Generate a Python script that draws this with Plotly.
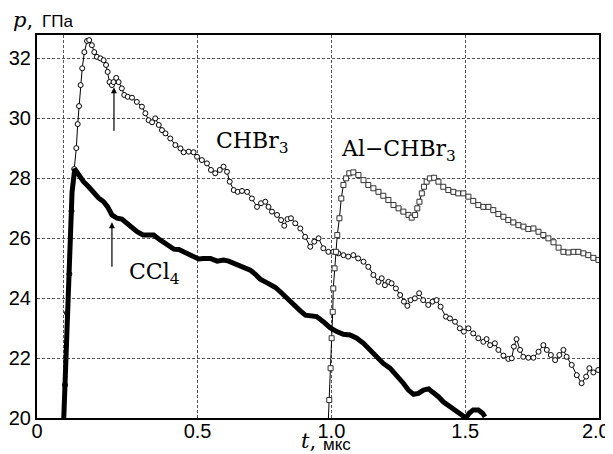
import plotly.graph_objects as go

# ---- data ----
chbr3_t = [-0.002, 0.0045, 0.012, 0.021, 0.029, 0.039, 0.047, 0.052, 0.057, 0.063, 0.069, 0.077, 0.087, 0.095,
           0.105, 0.114, 0.124, 0.137, 0.149, 0.158, 0.164, 0.171, 0.18, 0.186, 0.196, 0.205, 0.217, 0.226,
           0.239, 0.255, 0.273, 0.292, 0.305, 0.317, 0.33, 0.342, 0.355, 0.367, 0.38, 0.398, 0.417, 0.436,
           0.448, 0.467, 0.485, 0.498, 0.516, 0.535, 0.55, 0.566, 0.583, 0.597, 0.61, 0.62, 0.635, 0.65,
           0.666, 0.685, 0.703, 0.722, 0.737, 0.753, 0.765, 0.778, 0.797, 0.812, 0.824, 0.836, 0.849, 0.865,
           0.884, 0.902, 0.921, 0.936, 0.952, 0.97, 0.989, 1.007, 1.026, 1.045, 1.063, 1.082, 1.1, 1.12,
           1.138, 1.157, 1.176, 1.188, 1.2, 1.213, 1.225, 1.241, 1.257, 1.271, 1.284, 1.296, 1.312, 1.328,
           1.343, 1.362, 1.378, 1.393, 1.408, 1.428, 1.443, 1.462, 1.48, 1.495, 1.512, 1.53, 1.549, 1.568,
           1.58, 1.593, 1.611, 1.624, 1.643, 1.661, 1.674, 1.682, 1.692, 1.705, 1.717, 1.736, 1.755, 1.774,
           1.792, 1.805, 1.82, 1.836, 1.852, 1.867, 1.879, 1.898, 1.917, 1.935, 1.952, 1.964, 1.979, 1.997]
chbr3_p = [19.5, 21.1, 23.5, 24.8, 26.9, 28.3, 29.0, 29.8, 30.4, 31.1, 31.66, 32.2, 32.57, 32.6,
           32.43, 32.2, 32.04, 31.99, 31.93, 31.77, 31.54, 31.2, 31.1, 31.2, 31.34, 31.2, 30.99, 30.77,
           30.71, 30.68, 30.54, 30.38, 30.16, 29.93, 29.86, 29.99, 29.77, 29.6, 29.49, 29.32, 29.1, 28.99,
           28.86, 28.88, 28.86, 28.71, 28.6, 28.49, 28.27, 28.16, 28.27, 28.38, 28.21, 27.88, 27.6, 27.54,
           27.57, 27.54, 27.32, 27.04, 27.16, 27.21, 27.04, 26.88, 26.77, 26.6, 26.41, 26.63, 26.66, 26.49,
           26.32, 26.04, 25.71, 25.88, 25.99, 25.66, 25.54, 25.54, 25.49, 25.43, 25.38, 25.43, 25.32, 25.21,
           25.04, 24.77, 24.54, 24.66, 24.43, 24.54, 24.49, 24.32, 24.1, 23.88, 23.74, 23.93, 23.99, 24.16,
           23.93, 23.77, 23.88, 23.93, 23.71, 23.38, 23.32, 23.21, 22.99, 22.88, 22.99, 22.82, 22.66, 22.54,
           22.63, 22.43, 22.49, 22.27, 22.08, 21.97, 21.99, 22.38, 22.63, 22.27, 22.04, 22.01, 22.01, 22.21,
           22.43, 22.27, 22.1, 21.93, 22.1, 22.27, 22.04, 21.77, 21.43, 21.16, 21.38, 21.66, 21.52, 21.6]

ccl4_t = [-0.002, 0.0095, 0.018, 0.024, 0.031, 0.041, 0.056, 0.074, 0.093, 0.112, 0.13, 0.149, 0.164, 0.18,
          0.199, 0.217, 0.236, 0.255, 0.274, 0.296, 0.317, 0.336, 0.355, 0.373, 0.392, 0.411, 0.43, 0.448,
          0.467, 0.485, 0.504, 0.523, 0.548, 0.573, 0.597, 0.616, 0.635, 0.66, 0.678, 0.697, 0.716, 0.734,
          0.753, 0.772, 0.79, 0.809, 0.828, 0.847, 0.865, 0.884, 0.903, 0.921, 0.945, 0.97, 0.995, 1.02,
          1.045, 1.07, 1.095, 1.12, 1.144, 1.17, 1.194, 1.219, 1.244, 1.269, 1.288, 1.307, 1.325, 1.344,
          1.363, 1.381, 1.4, 1.418, 1.437, 1.456, 1.474, 1.49, 1.503, 1.515, 1.53, 1.549, 1.565, 1.574]
ccl4_p = [19.5, 22.3, 24.77, 26.3, 27.54, 28.3, 28.1, 27.88, 27.71, 27.49, 27.34, 27.21, 27.04, 26.77,
          26.66, 26.63, 26.49, 26.34, 26.21, 26.1, 26.1, 26.1, 25.97, 25.86, 25.71, 25.63, 25.62, 25.54,
          25.49, 25.38, 25.3, 25.32, 25.32, 25.23, 25.27, 25.23, 25.16, 25.04, 24.99, 24.93, 24.79, 24.63,
          24.54, 24.46, 24.36, 24.21, 24.04, 23.88, 23.71, 23.57, 23.43, 23.41, 23.38, 23.21, 23.01, 22.88,
          22.79, 22.77, 22.66, 22.49, 22.27, 22.04, 21.82, 21.66, 21.43, 21.16, 20.93, 20.79, 20.82, 20.93,
          20.97, 20.86, 20.71, 20.54, 20.41, 20.3, 20.16, 20.04, 20.0, 20.16, 20.27, 20.27, 20.16, 20.04]

al_t = [0.988, 0.992, 0.997, 1.001, 1.005, 1.007, 1.012, 1.017, 1.022, 1.03, 1.037, 1.045, 1.055, 1.067,
        1.082, 1.101, 1.12, 1.138, 1.157, 1.176, 1.194, 1.213, 1.232, 1.251, 1.269, 1.288, 1.3, 1.313,
        1.321, 1.329, 1.338, 1.346, 1.356, 1.368, 1.384, 1.4, 1.418, 1.437, 1.456, 1.474, 1.493, 1.512,
        1.53, 1.549, 1.568, 1.587, 1.605, 1.624, 1.643, 1.661, 1.68, 1.699, 1.718, 1.736, 1.755, 1.774,
        1.792, 1.811, 1.83, 1.849, 1.867, 1.886, 1.905, 1.923, 1.942, 1.96, 1.979, 1.998]
al_p = [19.8, 20.6, 21.66, 22.66, 23.54, 24.32, 24.99, 25.54, 26.1, 26.66, 27.32, 27.77, 27.99, 28.16,
        28.19, 28.1, 27.93, 27.77, 27.66, 27.54, 27.41, 27.27, 27.1, 26.99, 26.88, 26.77, 26.68, 26.77,
        26.99, 27.21, 27.49, 27.71, 27.88, 27.99, 28.01, 27.88, 27.71, 27.6, 27.54, 27.49, 27.49, 27.38,
        27.24, 27.1, 27.04, 27.04, 26.93, 26.8, 26.71, 26.6, 26.52, 26.43, 26.38, 26.3, 26.32, 26.21,
        26.1, 25.99, 25.86, 25.68, 25.54, 25.52, 25.54, 25.54, 25.49, 25.43, 25.34, 25.27]

# tick label positions as printed in the reference (first/last sit at the frame edges)
x_tickvals = [-0.1, 0.5, 1.0, 1.5, 1.988]
x_ticktext = ["0", "0.5", "1.0", "1.5", "2.0"]
x_gridvals = [0, 0.5, 1.0, 1.5]
y_tickvals = [20, 22, 24, 26, 28, 30, 32]
y_ticktext = ["20", "22", "24", "26", "28", "30", "32"]

labels = ["CHBr<sub>3</sub>", "CCl<sub>4</sub>", "Al\u2212CHBr<sub>3</sub>"]

fig = go.Figure()

fig.add_trace(go.Scatter(x=chbr3_t, y=chbr3_p, mode="lines+markers",
                         line=dict(color="black", width=1),
                         marker=dict(symbol="circle", size=5, color="white",
                                     line=dict(color="black", width=1))))
fig.add_trace(go.Scatter(x=ccl4_t, y=ccl4_p, mode="lines",
                         line=dict(color="black", width=5)))
fig.add_trace(go.Scatter(x=al_t, y=al_p, mode="lines+markers",
                         line=dict(color="black", width=1),
                         marker=dict(symbol="square", size=5, color="white",
                                     line=dict(color="#333", width=1))))

fig.update_xaxes(range=[-0.1, 2.0], tickvals=x_tickvals, ticktext=x_ticktext,
                 showline=True, linecolor="black", linewidth=2, mirror=True,
                 ticks="", zeroline=False, automargin=False, ticklabelstandoff=-6,
                 showgrid=False,
                 minor=dict(tickvals=x_gridvals, showgrid=True, gridcolor="#555", gridwidth=1, griddash="3px,2px"),
                 tickfont=dict(family="Liberation Sans, Arial", size=20, color="black"))
fig.update_yaxes(range=[20, 32.77], tickvals=y_tickvals, ticktext=y_ticktext,
                 showline=True, linecolor="black", linewidth=2, mirror=True,
                 ticks="", zeroline=False, automargin=False, ticklabelstandoff=0,
                 showgrid=True, gridcolor="#555", gridwidth=1, griddash="3px,2px",
                 tickfont=dict(family="Liberation Sans, Arial", size=20, color="black"))

serif = dict(family="DejaVu Serif", size=22, color="black")
fig.add_annotation(x=0.707, y=29.2, text=labels[0], showarrow=False, font=serif)
fig.add_annotation(x=0.34, y=24.83, text=labels[1], showarrow=False, font=serif)
fig.add_annotation(x=1.249, y=28.93, text=labels[2], showarrow=False, font=serif)

# arrows
fig.add_annotation(x=0.1876, y=31.03, ax=0, ay=45, text="", showarrow=True,
                   arrowhead=2, arrowsize=1, arrowwidth=1.2, arrowcolor="black")
fig.add_annotation(x=0.18, y=26.53, ax=0, ay=46, text="", showarrow=True,
                   arrowhead=2, arrowsize=1, arrowwidth=1.2, arrowcolor="black")

# axis titles (italic serif symbol + sans unit)
sym_font = dict(family="DejaVu Serif", size=21, color="black")
unit_font = dict(family="Liberation Sans, Arial", size=17, color="black")
fig.add_annotation(xref="paper", yref="paper", x=-0.047, y=1.04, xanchor="left", yanchor="middle",
                   text="<i>p</i>,", showarrow=False, font=sym_font)
fig.add_annotation(xref="paper", yref="paper", x=0.005, y=1.035, xanchor="left", yanchor="middle",
                   text="ГПа", showarrow=False, font=unit_font)
fig.add_annotation(xref="paper", yref="paper", x=0.467, y=-0.061, xanchor="left", yanchor="middle",
                   text="<i>t</i>,", showarrow=False, font=sym_font)
fig.add_annotation(xref="paper", yref="paper", x=0.505, y=-0.068, xanchor="left", yanchor="middle",
                   text="мкс", showarrow=False, font=unit_font)

# the page body adds an 8px offset, so the figure is 8px smaller and margins shifted
fig.update_layout(width=605, height=446, margin=dict(l=29, r=14, t=27, b=36, autoexpand=False),
                  plot_bgcolor="white", paper_bgcolor="white", showlegend=False)

fig.write_html("out.html")
